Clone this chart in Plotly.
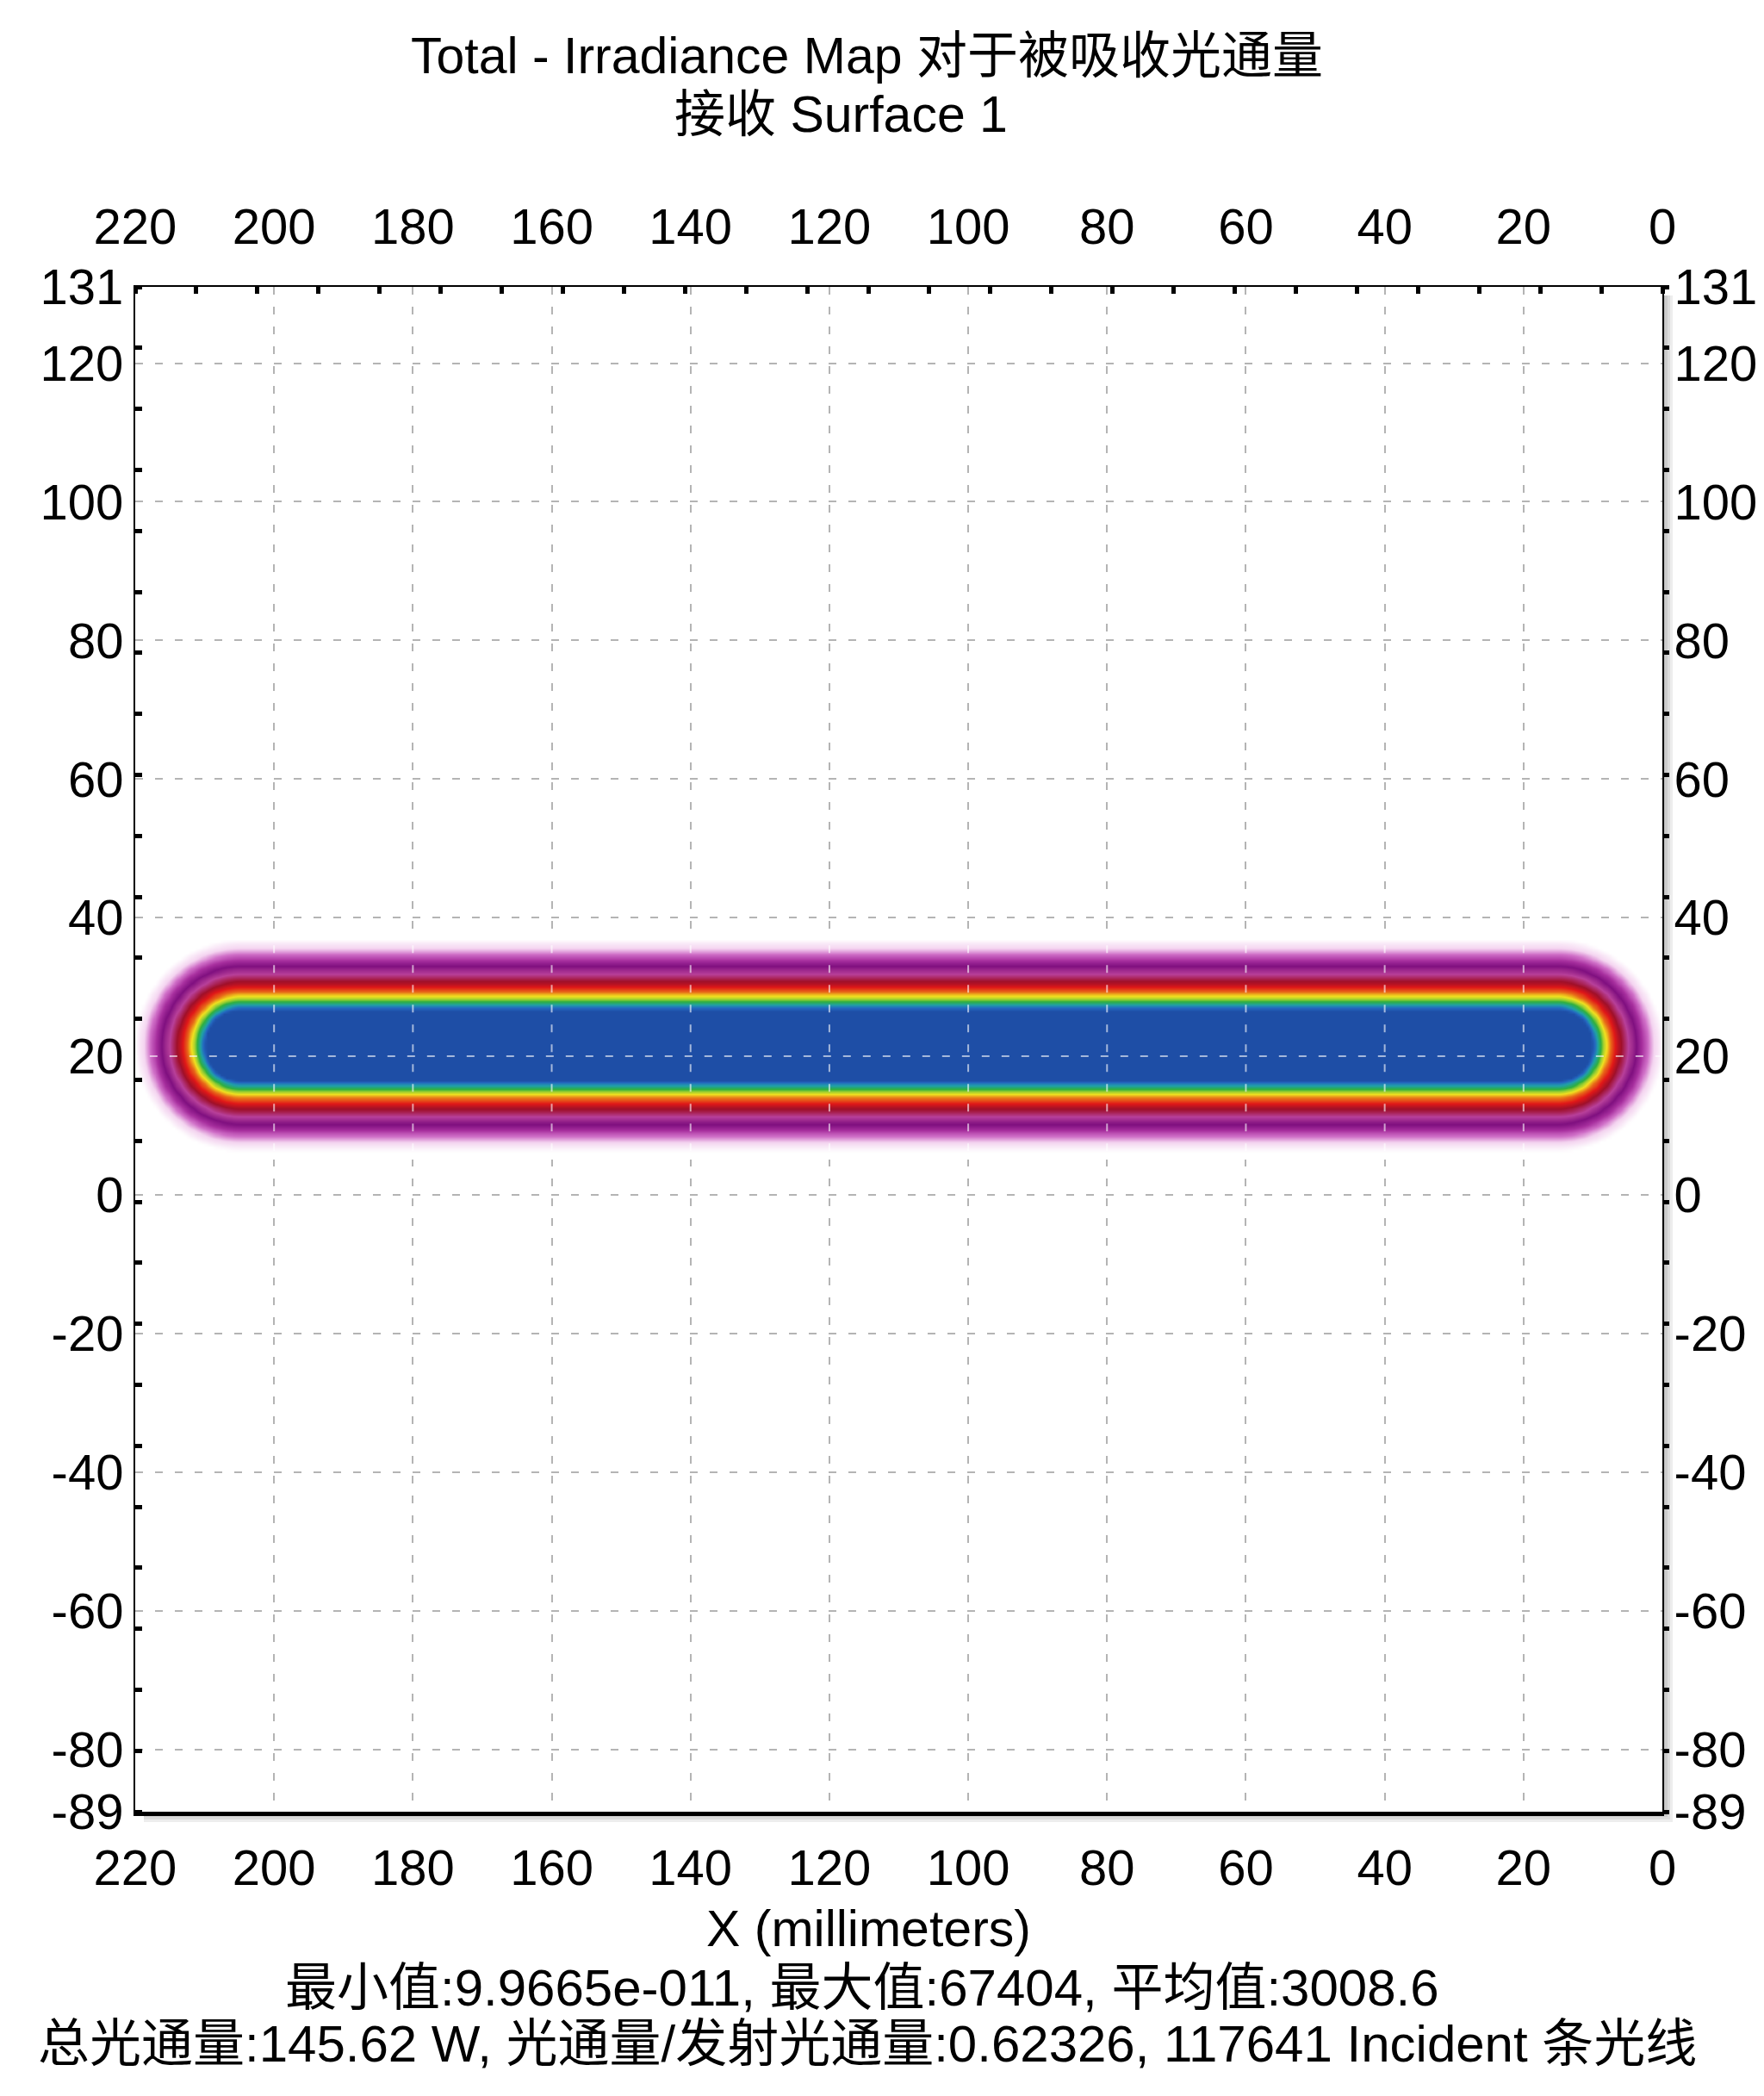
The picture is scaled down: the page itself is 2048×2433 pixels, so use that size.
import numpy as np
import plotly.graph_objects as go

# ---------------- text ----------------
TITLE_LINE1 = "Total - Irradiance Map 对于被吸收光通量"
TITLE_LINE2 = "接收 Surface 1"
X_TITLE = "X (millimeters)"
STATS_LINE1 = "最小值:9.9665e-011, 最大值:67404, 平均值:3008.6"
STATS_LINE2 = "总光通量:145.62 W, 光通量/发射光通量:0.62326, 117641 Incident 条光线"

# ---------------- axes ----------------
x_range = [220, 0]
y_range = [-89, 131]
x_tick_vals = [220, 200, 180, 160, 140, 120, 100, 80, 60, 40, 20, 0]
y_tick_vals = [131, 120, 100, 80, 60, 40, 20, 0, -20, -40, -60, -80, -89]
x_grid_vals = [200, 180, 160, 140, 120, 100, 80, 60, 40, 20]
y_grid_vals = [120, 100, 80, 60, 40, 20, 0, -20, -40, -60, -80]
minor_step = 8.8

# ---------------- irradiance stripe ----------------
spine_x = [15.2, 204.8]     # stripe centre-line ends (mm)
spine_y = 21.6              # stripe centre-line height (mm)
peak_irradiance = 67404
# distance from the centre line (mm) -> relative irradiance
profile_dist = [0.0, 5.1, 5.4, 5.8, 6.3, 6.7, 7.1, 7.7, 8.4, 9.2, 10.3, 11.4, 12.3, 13.1, 14.0, 15.3]
profile_level = [1.0, 1.0, 0.94, 0.88, 0.80, 0.75, 0.70, 0.62, 0.54, 0.46, 0.37, 0.28, 0.20, 0.12, 0.06, 0.0]

colorscale = [
    [0.00, "#ffffff"],
    [0.06, "#f4d4f0"],
    [0.12, "#d070c8"],
    [0.20, "#a8309f"],
    [0.28, "#801080"],
    [0.37, "#b8409a"],
    [0.46, "#a0102a"],
    [0.54, "#e01818"],
    [0.62, "#e86818"],
    [0.70, "#f0e020"],
    [0.75, "#a0d030"],
    [0.80, "#30b040"],
    [0.88, "#20a0a8"],
    [0.94, "#2468c0"],
    [1.00, "#1e4ea6"],
]

FONT = "Arial, 'Liberation Sans', 'Noto Sans CJK SC', sans-serif"

# ---------------- field on a grid ----------------
outer = profile_dist[-1]
gx = np.arange(0, 220.001, 0.4)
gy = np.arange(spine_y - outer - 1, spine_y + outer + 1.001, 0.4)
X, Y = np.meshgrid(gx, gy)
dx = np.maximum(np.maximum(spine_x[0] - X, 0), X - spine_x[1])
D = np.sqrt(dx ** 2 + (Y - spine_y) ** 2)
Z = np.interp(D, profile_dist, profile_level) * peak_irradiance

fig = go.Figure()
fig.add_trace(go.Heatmap(
    x=gx, y=gy, z=Z, colorscale=colorscale, zmin=0, zmax=peak_irradiance,
    zsmooth="best", showscale=False, hoverinfo="skip",
))
# invisible trace to activate top / right axes
fig.add_trace(go.Scatter(x=[110], y=[20], xaxis="x2", yaxis="y2", mode="markers",
                         marker=dict(opacity=0), hoverinfo="skip", showlegend=False))

# page body has an 8px margin: compensate so the plot lands where the reference has it
OFF = 8
W, H = 2048 - OFF, 2433 - OFF
L, R, T, B = 157 - OFF, 118, 333 - OFF, 330
plot_w = W - L - R
plot_h = H - T - B

tickfont = dict(family=FONT, size=58, color="black")
gridstyle = dict(showgrid=True, gridcolor="#b4b4b4", griddash="9px,14px", gridwidth=2)

fig.update_layout(
    width=W, height=H,
    margin=dict(l=L, r=R, t=T, b=B, autoexpand=False),
    paper_bgcolor="white", plot_bgcolor="white",
    showlegend=False,
    font=dict(family=FONT, color="black"),
    xaxis=dict(range=x_range, tickmode="array", tickvals=x_tick_vals, automargin=False,
               ticktext=[str(v) for v in x_tick_vals], ticks="", tickfont=tickfont,
               ticklabelstandoff=10, showline=True, linecolor="black", linewidth=5,
               zeroline=False, **gridstyle),
    xaxis2=dict(range=x_range, overlaying="x", side="top", anchor="y", automargin=False,
                tickmode="array", tickvals=x_tick_vals,
                ticktext=[str(v) for v in x_tick_vals], ticks="", tickfont=tickfont,
                ticklabelstandoff=25, showline=True, linecolor="black", linewidth=2,
                zeroline=False, showgrid=False,
                minor=dict(tickmode="linear", tick0=0, dtick=minor_step, ticks="inside",
                           ticklen=8, tickwidth=5, tickcolor="black", showgrid=False)),
    yaxis=dict(range=y_range, tickmode="array", tickvals=y_tick_vals, automargin=False,
               ticktext=[str(v) for v in y_tick_vals], ticks="", tickfont=tickfont,
               ticklabelstandoff=0, showline=True, linecolor="black", linewidth=2,
               zeroline=False,
               minor=dict(tickmode="linear", tick0=y_range[1], dtick=minor_step, ticks="inside",
                          ticklen=8, tickwidth=5, tickcolor="black", showgrid=False),
               **gridstyle),
    yaxis2=dict(range=y_range, overlaying="y", side="right", anchor="x", automargin=False,
                tickmode="array", tickvals=y_tick_vals,
                ticktext=[str(v) for v in y_tick_vals], ticks="", tickfont=tickfont,
                ticklabelstandoff=0, showline=True, linecolor="black", linewidth=2,
                zeroline=False, showgrid=False,
                minor=dict(tickmode="linear", tick0=y_range[1], dtick=minor_step, ticks="outside",
                           ticklen=6, tickwidth=5, tickcolor="black", showgrid=False)),
)

# ---------------- annotations (titles & stats) ----------------
def px_to_paper_x(px):
    return (px - OFF - L) / plot_w

def px_to_paper_y(py):
    return (H - B - (py - OFF)) / plot_h

texts = [
    (TITLE_LINE1, 1006, 65, 59),
    (TITLE_LINE2, 976, 133, 59),
    (X_TITLE, 1008, 2239, 59),
    (STATS_LINE1, 1001, 2307, 60),
    (STATS_LINE2, 1007, 2372, 60),
]
for txt, cx, cy, fs in texts:
    fig.add_annotation(text=txt, x=px_to_paper_x(cx), y=px_to_paper_y(cy),
                       xref="paper", yref="paper", showarrow=False,
                       xanchor="center", yanchor="middle",
                       font=dict(family=FONT, size=fs, color="black"))

# ---------------- gridlines visible over the stripe ----------------
band_lo = spine_y - outer
band_hi = spine_y + outer
for gxv in x_grid_vals:
    fig.add_shape(type="line", x0=gxv, x1=gxv, y0=band_lo, y1=band_hi, xref="x", yref="y",
                  layer="above", line=dict(color="rgba(255,255,255,0.6)", width=2, dash="9px,14px"))
for gyv in y_grid_vals:
    if band_lo <= gyv <= band_hi:
        fig.add_shape(type="line", x0=spine_x[0] - outer, x1=spine_x[1] + outer, y0=gyv, y1=gyv,
                      xref="x", yref="y", layer="above",
                      line=dict(color="rgba(255,255,255,0.6)", width=2, dash="9px,14px"))

# ---------------- drop shadow (right & bottom) ----------------
for i in range(4):
    w = (i + 1) * 3
    fig.add_shape(type="rect", xref="paper", yref="paper",
                  x0=1 + 1.5 / plot_w, x1=1 + w / plot_w,
                  y0=-(w) / plot_h, y1=1 - 10 / plot_h,
                  line=dict(width=0), fillcolor="rgba(0,0,0,0.07)", layer="above")
    fig.add_shape(type="rect", xref="paper", yref="paper",
                  x0=10 / plot_w, x1=1 + 1.5 / plot_w,
                  y0=-w / plot_h, y1=-2.5 / plot_h,
                  line=dict(width=0), fillcolor="rgba(0,0,0,0.07)", layer="above")

fig.write_html("out.html", config={"displayModeBar": False})
